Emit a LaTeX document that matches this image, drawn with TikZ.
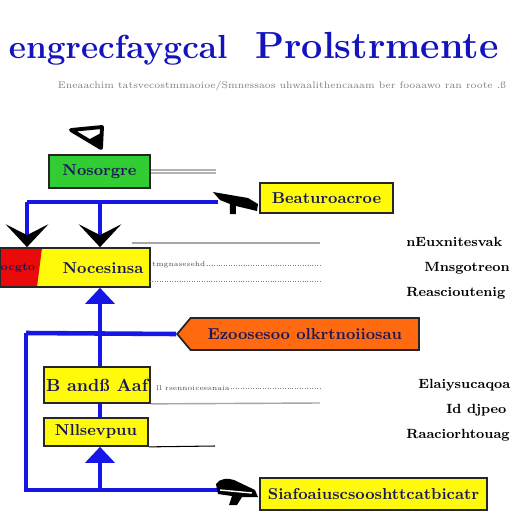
\documentclass[tikz,border=0pt]{standalone}
\usepackage{tikz}
\usetikzlibrary{arrows.meta, positioning, calc, shapes.symbols}
\usepackage[dvipsnames, svgnames]{xcolor}

\definecolor{flowblue}{RGB}{22,22,230}
\definecolor{titleblue}{RGB}{20,20,190}
\definecolor{boxyellow}{RGB}{255,250,10}
\definecolor{boxgreen}{RGB}{50,205,50}
\definecolor{boxred}{RGB}{235,10,10}
\definecolor{boxorange}{RGB}{255,105,15}
\definecolor{labelnavy}{RGB}{25,25,90}

\begin{document}
\begin{tikzpicture}[x=0.02cm, y=-0.02cm,
        flowbox/.style={draw=black!85, line width=1pt, font=\bfseries\small, text=labelnavy, inner sep=0pt},
        flowline/.style={draw=flowblue, line width=2.6pt},
        uptip/.style={-{Triangle[flowblue, line width=0pt, length=0.32cm, width=0.6cm]}},
        downtip/.style={-{Stealth[black, line width=0pt, length=0.46cm, width=0.86cm, inset=0.22cm]}},
        sideline/.style={draw=gray!70, line width=0.8pt},
        tinytext/.style={font=\fontsize{4}{4}\selectfont, text=black!70, inner sep=0.5pt},
        sidetext/.style={font=\bfseries\fontsize{7.6}{9}\selectfont, text=black, inner sep=0pt}]
        \useasboundingbox (0,0) rectangle (512,512);
        \fill[white] (0,0) rectangle (512,512);

        % Title
        \node[anchor=base east, inner sep=0pt, font=\bfseries\fontsize{19}{22}\selectfont, text=titleblue] (titleL) at (228,58) {engrecfaygcal};
        \node[anchor=base west, inner sep=0pt, font=\bfseries\fontsize{21.5}{24}\selectfont, text=titleblue] (titleR) at (255,58) {Prolstrmente};
        \node[font=\fontsize{5.5}{6}\selectfont, text=gray] (subtitle) at (282,86) {Eneaachim tatsvecostmmaoioe/Smnessaos uhwaalithencaaam ber fooaawo ran roote .ß};

        % Pointer
        \draw[line width=2.2pt, line join=round] (71,130) -- (101,148) -- (102,127) -- cycle;
        \fill (88,140) -- (101,148) -- (101,133) -- cycle;

        % Boxes
        \node[flowbox, fill=boxgreen, minimum width=2.02cm, minimum height=0.66cm] (sensor) at (99.5,171.5) {Nosorgre};
        \node[flowbox, fill=boxyellow, minimum width=2.66cm, minimum height=0.6cm] (feedback) at (326.5,198) {Beaturoacroe};
        \node[flowbox, fill=boxyellow, minimum width=3cm, minimum height=0.78cm,
            path picture={\fill[boxred] (path picture bounding box.north west) -- ([xshift=0.84cm]path picture bounding box.north west)
                -- ([xshift=0.74cm]path picture bounding box.south west) -- (path picture bounding box.south west) -- cycle;}] (ctrl) at (75,267.5) {};
        \node[flowbox, draw=none, font=\bfseries\fontsize{6}{7}\selectfont] (ctrlA) at (18,268) {ocgto};
        \node[flowbox, draw=none] (ctrlB) at (103,268) {Nocesinsa};
        \node[flowbox, shape=signal, signal to=west, signal from=nowhere, signal pointer angle=100, fill=boxorange,
            minimum width=4.84cm, minimum height=0.64cm, anchor=east] (estim) at (420,334) {Ezoosesoo olkrtnoiiosau};
        \node[flowbox, fill=boxyellow, font=\bfseries\normalsize, minimum width=2.12cm, minimum height=0.72cm] (plant) at (97,385) {B andß Aaf};
        \node[flowbox, fill=boxyellow, minimum width=2.08cm, minimum height=0.56cm] (meas) at (96,432) {Nllsevpuu};
        \node[flowbox, fill=boxyellow, minimum width=4.54cm, minimum height=0.64cm] (output) at (373.5,494) {Siafoaiuscsooshttcatbicatr};

        % Blue lines
        \coordinate (jl) at (27,202);
        \coordinate (jr) at (100,202);
        \coordinate (plugA) at (218,202);
        \coordinate (jm) at (100,333);
        \coordinate (jb) at (26,333);
        \coordinate (jd) at (26,490);
        \coordinate (plugB) at (218,490);
        \draw[flowline] (jl) -- (plugA);
        \draw[flowline, downtip] (jl) -- (jl |- ctrl.north);
        \draw[flowline, downtip] (jr) -- (jr |- ctrl.north);
        \draw[flowline, uptip] (jm) -- (jm |- ctrl.south);
        \draw[flowline] (jb) -- (estim.west);
        \draw[flowline] (jm) -- (jm |- plant.north);
        \draw[flowline] (jm |- plant.south) -- (jm |- meas.north);
        \draw[flowline] (jb) -- (jd) -- (plugB);
        \draw[flowline, uptip] (jm |- jd) -- (jm |- meas.south);

        % Plugs
        \fill (213,192) -- (248,198) -- (258,204) -- (257,211) -- (236,206) -- (236,214) -- (230,214) -- (230,204) -- (220,200) -- cycle;
        \fill (216,484) .. controls (220,478) and (228,478) .. (234,480) -- (255,490) -- (258,497) -- (242,497) -- (237,505) -- (229,505) -- (232,496) -- (218,494) -- cycle;
        \draw[white, line width=0.8pt] (220,490) -- (252,493);

        % Side lines
        \draw[gray!60, line width=0.6pt] (sensor.east) ++(0,-1.5) -- ++(65,0);
        \draw[gray!60, line width=0.6pt] (sensor.east) ++(0,1.5) -- ++(65,0);
        \draw[sideline] (132,243) -- (320,243);
        \node[tinytext, anchor=west] (noteA) at (151,265) {tmgnasesehd};
        \draw[gray, densely dotted] (noteA.east) -- (320,265);
        \draw[gray, densely dotted] (150,281) -- (320,281);
        \node[tinytext, anchor=west] (noteB) at (155,388) {ll rsennoiceesnaia};
        \draw[gray, densely dotted] (noteB.east) -- (320,388);
        \draw[sideline] (plant.south east) -- (320,403);
        \draw[black, line width=0.6pt] (meas.south east) -- (215,446);

        % Right text
        \draw[line width=0.5pt, double] (409,238) -- (403,238) -- (403,296) -- (409,296);
        \node[sidetext, anchor=west] (fbA) at (406,242) {nEuxnitesvak};
        \node[sidetext, anchor=west] (fbB) at (424,268) {Mnsgotreon};
        \node[sidetext, anchor=west] (fbC) at (406,293) {Reascioutenig};
        \draw[line width=0.5pt, double] (409,380) -- (403,380) -- (403,436) -- (409,436);
        \node[sidetext, anchor=west] (msA) at (418,385) {Elaiysucaqoa};
        \node[sidetext, anchor=west] (msB) at (446,410) {Id djpeo};
        \node[sidetext, anchor=west] (msC) at (406,435) {Raaciorhtouag};
    \end{tikzpicture}
\end{document}
